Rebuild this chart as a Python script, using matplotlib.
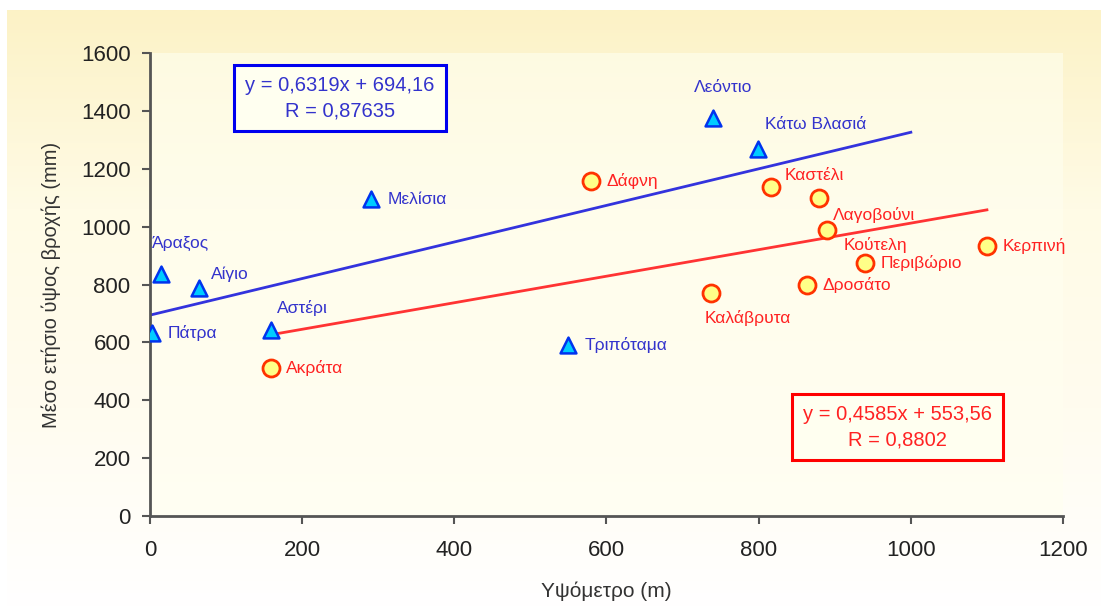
import numpy as np
import matplotlib.pyplot as plt
from matplotlib.colors import LinearSegmentedColormap

plt.rcParams['font.family'] = ['Liberation Sans', 'DejaVu Sans']

# blue group (triangles)
blue_names = ['Πάτρα', 'Άραξος', 'Αίγιο', 'Αστέρι', 'Μελίσια', 'Τριπόταμα', 'Λεόντιο', 'Κάτω Βλασιά']
blue_x = [3, 14, 64, 159, 290, 549, 740, 799]
blue_y = [632, 836, 788, 643, 1095, 591, 1375, 1268]

# red group (circles)
red_names = ['Ακράτα', 'Δάφνη', 'Καστέλι', 'Λαγοβούνι', 'Κούτελη', 'Περιβώριο', 'Κερπινή', 'Δροσάτο', 'Καλάβρυτα']
red_x = [159, 580, 816, 879, 890, 940, 1100, 864, 738]
red_y = [511, 1158, 1137, 1099, 988, 874, 933, 798, 771]

# trendlines from the chart's equations
blue_fit = (0.6319, 694.16)
blue_range = (0, 1000)
red_fit = (0.4585, 553.56)
red_range = (159, 1100)

blue_label_off = [(11, 0), (-6, 22), (9, 10), (4, 16), (12, 0), (12, 0), (-14, 22), (5, 18)]
red_label_off = [(11, 0), (11, 0), (10, 8), (10, -12), (12, -11), (11, 0), (11, 0), (11, 0), (-5, -18)]

fig = plt.figure(figsize=(11.01, 6.07), dpi=100)

# background gradient
bg = fig.add_axes([0.0064, 0, 0.9936, 0.9835], zorder=-10)
grad = np.linspace(0, 1, 256).reshape(-1, 1)
cmap = LinearSegmentedColormap.from_list('bg', ['#ffffff', '#fffcef', '#fffbe6', '#fcf2c6'])
bg.imshow(grad, aspect='auto', cmap=cmap, origin='lower', extent=[0, 1, 0, 1])
bg.axis('off')

ax = fig.add_axes([0.1362, 0.1499, 0.8293, 0.7628])
ax.set_facecolor('#fffff0')
ax.patch.set_alpha(0.6)

xs = np.array(blue_range)
ax.plot(xs, blue_fit[0] * xs + blue_fit[1], color='#3333dd', lw=2, zorder=2)
xs = np.array(red_range)
ax.plot(xs, red_fit[0] * xs + red_fit[1], color='#ff3333', lw=2, zorder=2)

ax.scatter(blue_x, blue_y, marker='^', s=130, facecolor='#00ccff', edgecolor='#0033ee', lw=1.8, zorder=3)
ax.scatter(red_x, red_y, marker='o', s=150, facecolor='#ffff88', edgecolor='#ff3300', lw=2, zorder=3)

for n, x, y, off in zip(blue_names, blue_x, blue_y, blue_label_off):
    ax.annotate(n, (x, y), xytext=off, textcoords='offset points', color='#3333cc',
                fontsize=12.5, va='center', ha='left')
for n, x, y, off in zip(red_names, red_x, red_y, red_label_off):
    ax.annotate(n, (x, y), xytext=off, textcoords='offset points', color='#ff2222',
                fontsize=12.5, va='center', ha='left')

ax.text(0.208, 0.902, 'y = 0,6319x + 694,16\nR = 0,87635', transform=ax.transAxes,
        color='#3333cc', fontsize=14.5, ha='center', va='center', linespacing=1.4,
        bbox=dict(boxstyle='square,pad=0.55', fc='#fffff0', ec='#0000ee', lw=2.2))
ax.text(0.819, 0.192, 'y = 0,4585x + 553,56\nR = 0,8802', transform=ax.transAxes,
        color='#ff2222', fontsize=14.5, ha='center', va='center', linespacing=1.4,
        bbox=dict(boxstyle='square,pad=0.55', fc='#fffff0', ec='#ff0000', lw=2.2))

ax.set_xlim(0, 1200)
ax.set_ylim(0, 1600)
ax.set_xticks(range(0, 1201, 200))
ax.set_yticks(range(0, 1601, 200))
for s in ['top', 'right']:
    ax.spines[s].set_visible(False)
for s in ['left', 'bottom']:
    ax.spines[s].set_color('#555555')
    ax.spines[s].set_linewidth(2)
ax.tick_params(direction='out', length=6, width=1.5, color='#555555', labelsize=16,
               labelcolor='#222222', pad=8)
ax.tick_params(axis='x', pad=11)
ax.set_xlabel('Υψόμετρο (m)', fontsize=15, color='#333333', labelpad=15)
ax.set_ylabel('Μέσο ετήσιο ύψος βροχής (mm)', fontsize=14.5, color='#333333', labelpad=14)

fig.savefig('out.png', dpi=100)
